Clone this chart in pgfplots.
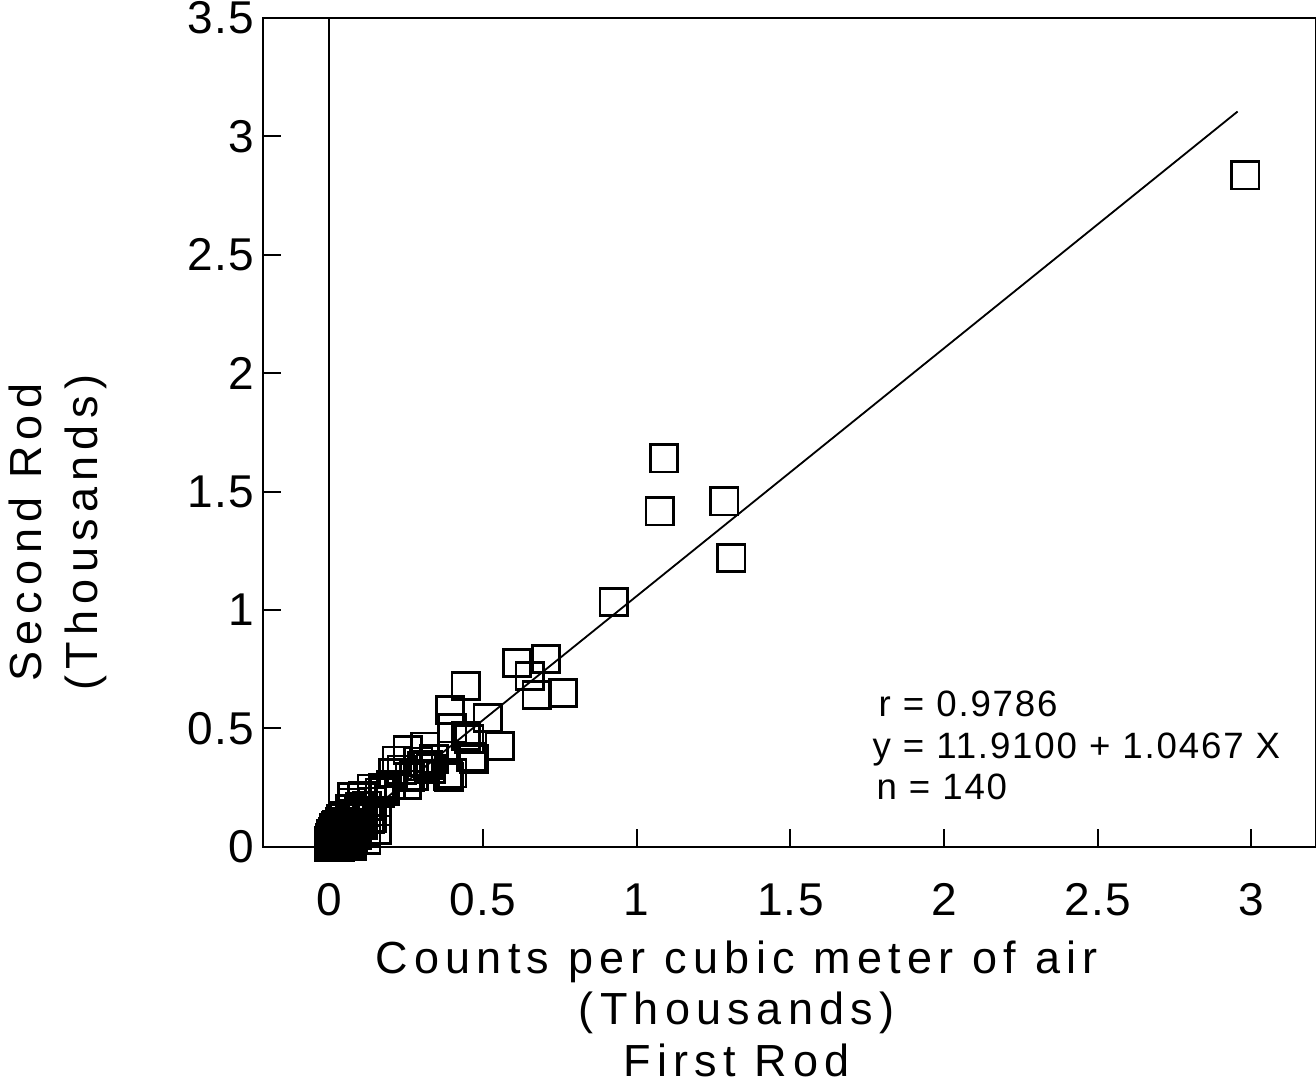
\documentclass[border=0pt]{standalone}
\usepackage{fontspec}
\setmainfont{Liberation Sans}
\newfontfamily\labelfont[LetterSpace=14]{Liberation Sans}
\newfontfamily\tickfont[LetterSpace=3]{Liberation Sans}
\newfontfamily\notefont[LetterSpace=5]{Liberation Sans}
\usepackage{pgfplots}
\pgfplotsset{compat=1.18}

\pgfplotstableread{
x y
2.980 2.835
1.089 1.641
1.075 1.417
1.285 1.459
1.308 1.219
0.925 1.033
0.705 0.793
0.610 0.776
0.652 0.721
0.675 0.641
0.760 0.650
0.443 0.679
0.393 0.578
0.400 0.500
0.515 0.544
0.445 0.468
0.455 0.455
0.554 0.426
0.469 0.371
0.462 0.380
0.389 0.295
0.400 0.310
0.385 0.300
0.311 0.422
0.255 0.409
0.219 0.363
0.320 0.346
0.300 0.340
0.261 0.295
0.207 0.312
0.174 0.249
0.252 0.262
0.275 0.300
0.235 0.325
0.290 0.360
0.330 0.330
0.340 0.370
0.180 0.236
0.108 0.215
0.075 0.210
0.138 0.245
0.121 0.173
0.098 0.148
0.131 0.118
0.066 0.160
0.039 0.118
0.023 0.089
0.073 0.186
0.105 0.207
0.060 0.101
0.138 0.122
0.154 0.072
0.164 0.228
0.200 0.260
0.090 0.120
0.110 0.090
0.120 0.060
0.080 0.140
0.050 0.130
0.100 0.170
0.140 0.190
0.155 0.150
0.070 0.080
0.090 0.050
0.120 0.030
0.100 0.100
0.045 0.095
0.000 0.000
0.002 0.001
0.004 0.003
0.001 0.006
0.006 0.002
0.003 0.010
0.008 0.005
0.010 0.012
0.005 0.015
0.012 0.004
0.015 0.010
0.002 0.020
0.009 0.022
0.018 0.016
0.020 0.006
0.014 0.028
0.006 0.030
0.022 0.024
0.025 0.012
0.003 0.035
0.011 0.038
0.028 0.030
0.030 0.004
0.017 0.042
0.032 0.018
0.008 0.045
0.024 0.048
0.035 0.036
0.038 0.008
0.020 0.055
0.005 0.052
0.040 0.028
0.030 0.060
0.043 0.045
0.045 0.015
0.012 0.062
0.036 0.065
0.048 0.055
0.050 0.002
0.026 0.070
0.052 0.035
0.055 0.022
0.040 0.075
0.058 0.062
0.060 0.010
0.015 0.078
0.032 0.082
0.062 0.045
0.065 0.030
0.050 0.085
0.068 0.070
0.070 0.015
0.025 0.092
0.072 0.050
0.042 0.095
0.075 0.005
0.058 0.098
0.078 0.035
0.035 0.105
0.080 0.080
0.001 0.000
0.000 0.003
0.007 0.000
0.013 0.000
0.000 0.011
0.019 0.002
0.000 0.018
0.027 0.000
0.000 0.026
0.034 0.001
0.016 0.020
0.021 0.034
0.044 0.005
}\rods

\begin{document}
\begin{tikzpicture}
  \begin{axis}[
    scale only axis,
    width=315.9pt, height=248.7pt,
    xmin=-0.216, xmax=3.209,
    ymin=0, ymax=3.5,
    axis line style={line width=0.6pt},
    xtick={0,0.5,1,1.5,2,2.5,3},
    ytick={0,0.5,1,1.5,2,2.5,3,3.5},
    xtick pos=bottom, ytick pos=left,
    tick align=inside,
    major tick length=5.4pt,
    tick style={line width=0.6pt, black},
    /pgf/number format/assume math mode=true,
    xticklabel style={font=\fontsize{13.8}{14}\tickfont, yshift=-7.5pt},
    yticklabel style={font=\fontsize{13.8}{14}\tickfont, xshift=1pt},
    clip=false,
  ]

    % zero line
    \addplot[black, line width=0.6pt] coordinates {(0,0) (0,3.5)};

    % regression line y = 11.91 + 1.0467 x (in thousands)
    \addplot[black, line width=0.55pt] coordinates {(0,0.0119) (2.955,3.105)};

    \addplot[only marks, mark=square, mark size=4.1pt,
      mark options={line width=0.8pt, black}] table {\rods};

    % statistics
    \node[font=\fontsize{11}{12}\notefont, anchor=base west, inner sep=0]
      at (axis cs:1.785,0.549) {r = 0.9786};
    \node[font=\fontsize{11}{12}\notefont, anchor=base west, inner sep=0]
      at (axis cs:1.765,0.372) {y = 11.9100 + 1.0467 X};
    \node[font=\fontsize{11}{12}\notefont, anchor=base west, inner sep=0]
      at (axis cs:1.778,0.200) {n = 140};

    % axis titles
    \node[font=\fontsize{13.5}{15.5}\labelfont, align=center, anchor=north, inner sep=0]
      at (axis description cs:0.450,-0.1122)
      {Counts per cubic meter of air\\(Thousands)\\First Rod};
    \node[font=\fontsize{13.5}{16.8}\labelfont, align=center, anchor=center,
      rotate=90, inner sep=0]
      at (axis description cs:-0.1952,0.379)
      {Second Rod\\(Thousands)};

    % page frame like the reference
    \coordinate (pagebl) at (axis description cs:-0.2498,-0.2907);
    \coordinate (pagetr) at (axis description cs:1.0003,1.0217);
  \end{axis}
  \pgfresetboundingbox
  \path (pagebl) rectangle (pagetr);
\end{tikzpicture}
\end{document}
